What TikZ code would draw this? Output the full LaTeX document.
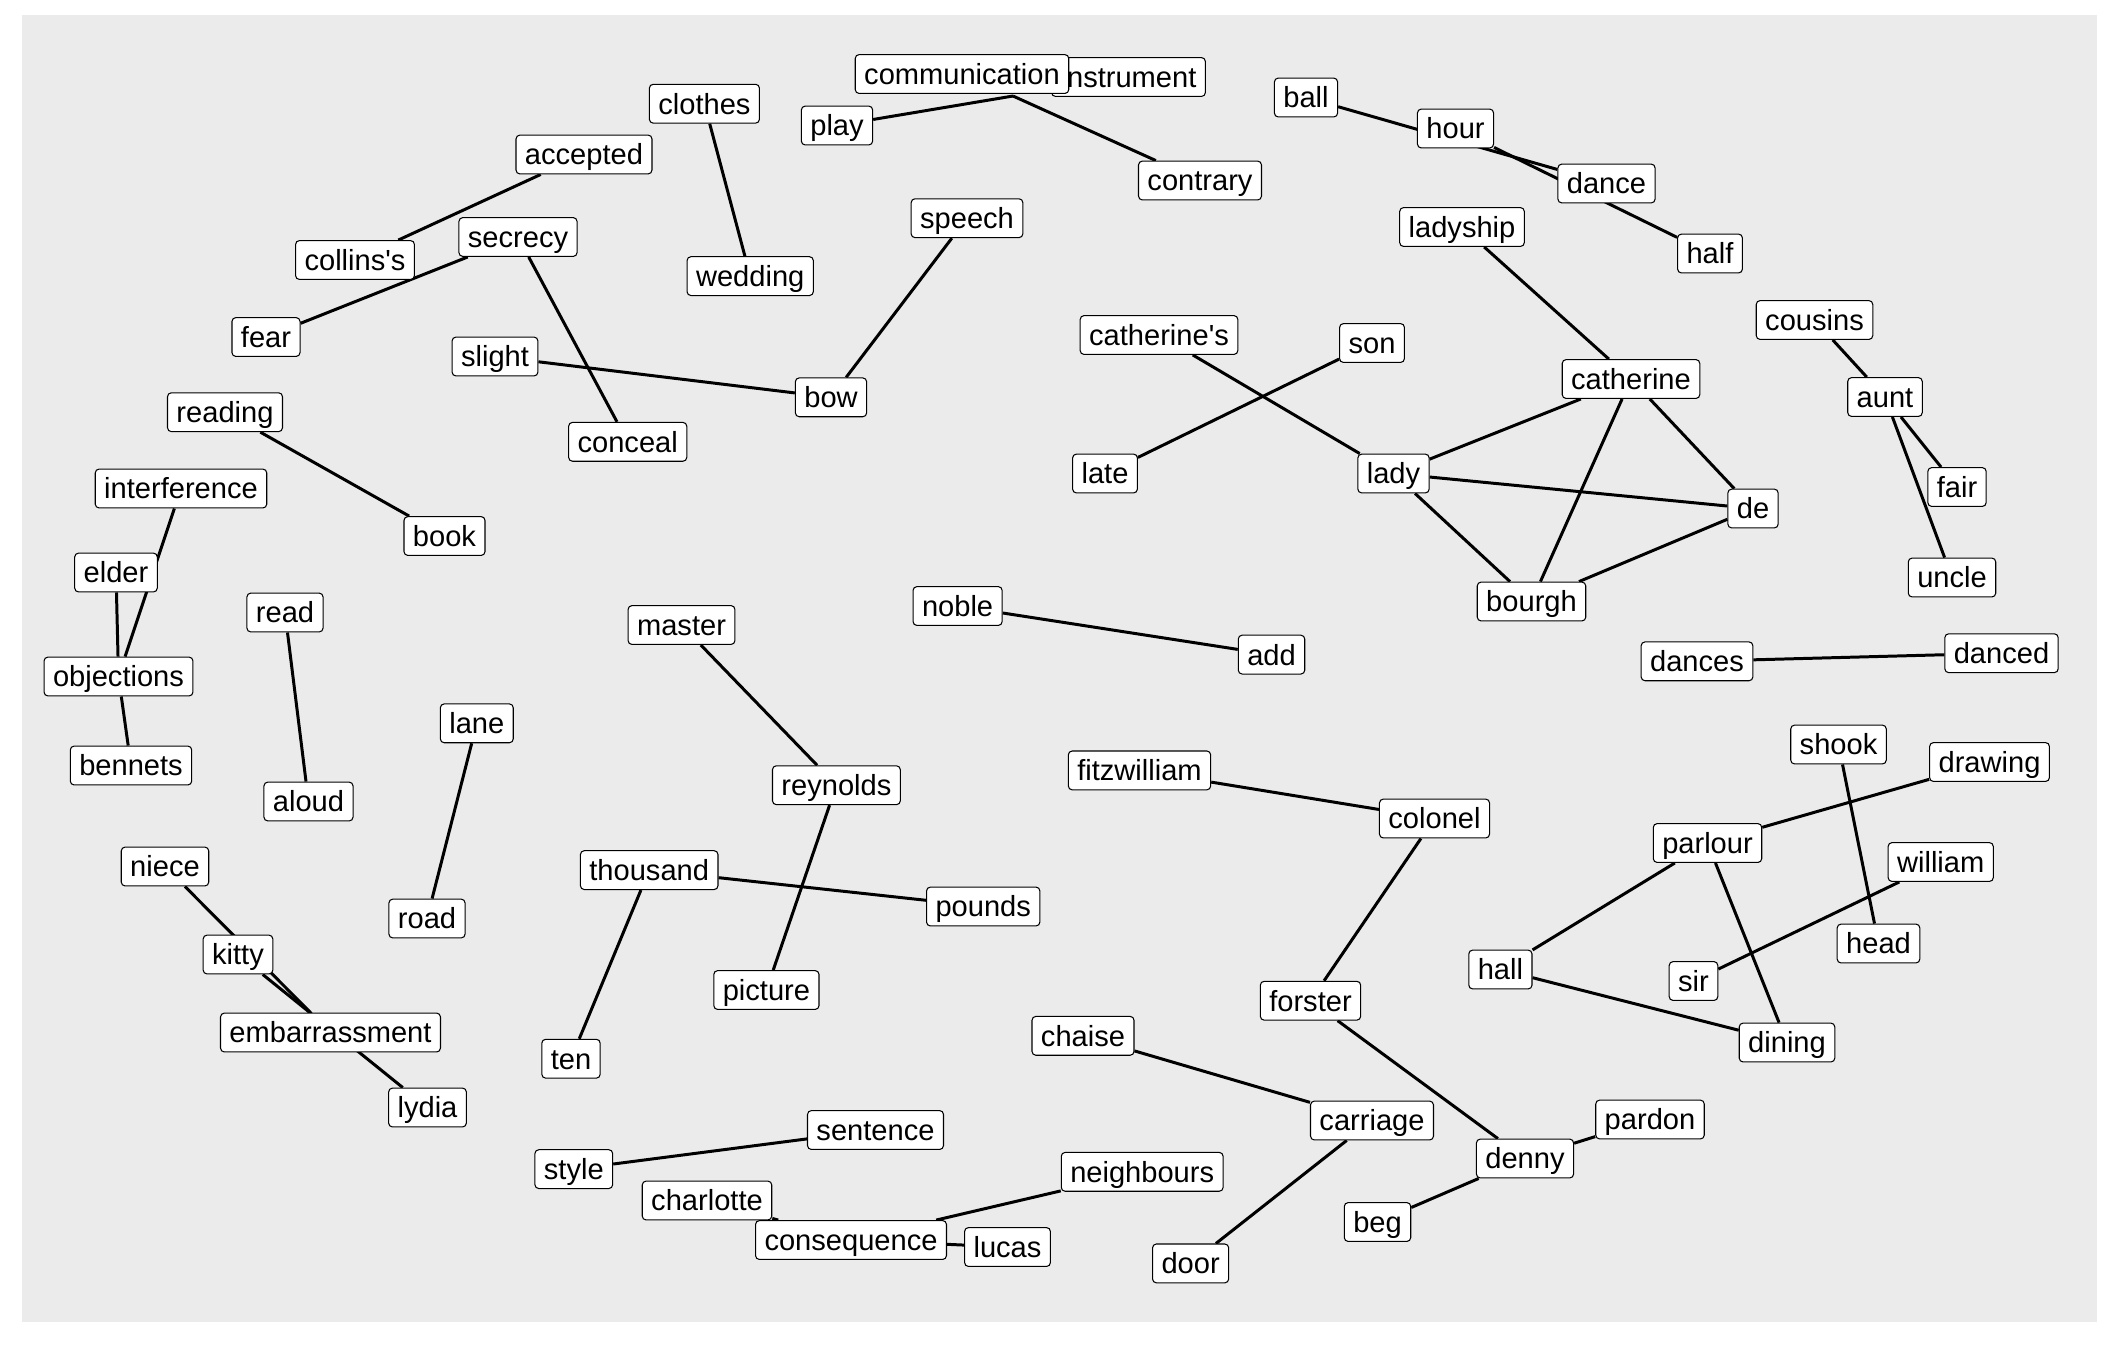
\documentclass[tikz,border=0pt]{standalone}
\usepackage{fontspec}
\setmainfont{Liberation Sans}
\definecolor{panelgrey}{HTML}{EBEBEB}
\pgfdeclarelayer{panel}
\pgfdeclarelayer{links}
\pgfsetlayers{panel,links,main}
\tikzset{
	word/.style={draw=black,fill=white,rounded corners=1.1pt,line width=0.3pt,
		inner xsep=2.55pt,inner ysep=2.55pt,text height=5.95pt,text depth=0pt,
		font=\fontsize{8.27}{9}\selectfont},
	link/.style={-,line width=0.85pt}
}
\begin{document}
\begin{tikzpicture}[x=0.01cm,y=-0.01cm]
	\useasboundingbox (0,0) rectangle (2112,1344);
	\begin{pgfonlayer}{panel}
		\fill[panelgrey] (22,15) rectangle (2097,1322);
	\end{pgfonlayer}
	\begin{scope}[every node/.style={word}]
		\node (instrument) at (1128.5,77) {instrument};
		\node (communication) at (962,74) {communication};
		\node (play) at (837,125.5) {play};
		\node (contrary) at (1200,180.5) {contrary};
		\node (clothes) at (704.4,103.7) {clothes};
		\node (wedding) at (750.2,276.1) {wedding};
		\node (ball) at (1306,97.5) {ball};
		\node (hour) at (1455.5,128.5) {hour};
		\node (dance) at (1606.5,183.5) {dance};
		\node (half) at (1710,253.5) {half};
		\node (ladyship) at (1462,227) {ladyship};
		\node (accepted) at (584,154.5) {accepted};
		\node (collinss) at (355,260) {collins\textquotesingle s};
		\node (secrecy) at (518,237) {secrecy};
		\node (fear) at (266,337) {fear};
		\node (slight) at (495,356.5) {slight};
		\node (speech) at (967,218.2) {speech};
		\node (bow) at (831,397.3) {bow};
		\node (conceal) at (627.7,441.8) {conceal};
		\node (catherines) at (1159,335) {catherine\textquotesingle s};
		\node (son) at (1372,343) {son};
		\node (catherine) at (1631,379) {catherine};
		\node (late) at (1105,473.5) {late};
		\node (lady) at (1393.5,473.5) {lady};
		\node (de) at (1753,508.5) {de};
		\node (bourgh) at (1531.5,601.5) {bourgh};
		\node (cousins) at (1814.5,320) {cousins};
		\node (aunt) at (1885,397) {aunt};
		\node (fair) at (1957,487) {fair};
		\node (uncle) at (1952,577.5) {uncle};
		\node (reading) at (225,412.2) {reading};
		\node (book) at (444.5,536) {book};
		\node (interference) at (181,488.5) {interference};
		\node (elder) at (116,572.5) {elder};
		\node (objections) at (118.5,676.5) {objections};
		\node (bennets) at (131,765.5) {bennets};
		\node (read) at (285,612.5) {read};
		\node (aloud) at (308.5,801.5) {aloud};
		\node (master) at (681.5,625) {master};
		\node (noble) at (957.6,606) {noble};
		\node (add) at (1271.5,654.6) {add};
		\node (dances) at (1697,661.3) {dances};
		\node (danced) at (2001.5,653.2) {danced};
		\node (lane) at (476.8,723.3) {lane};
		\node (road) at (427,918.5) {road};
		\node (reynolds) at (836.4,785.2) {reynolds};
		\node (picture) at (766.4,990) {picture};
		\node (fitzwilliam) at (1139.5,770.4) {fitzwilliam};
		\node (colonel) at (1434.5,818.5) {colonel};
		\node (forster) at (1310.5,1000.7) {forster};
		\node (shook) at (1838.5,744.5) {shook};
		\node (drawing) at (1989.5,762) {drawing};
		\node (parlour) at (1707.5,843) {parlour};
		\node (william) at (1940.7,862) {william};
		\node (head) at (1878.5,943.5) {head};
		\node (hall) at (1500.4,969.5) {hall};
		\node (sir) at (1693.5,981) {sir};
		\node (dining) at (1787,1042.5) {dining};
		\node (niece) at (165,866.5) {niece};
		\node (kitty) at (238,954.5) {kitty};
		\node (embarrassment) at (330.5,1032.5) {embarrassment};
		\node (lydia) at (427.5,1107.5) {lydia};
		\node (thousand) at (649.2,870.1) {thousand};
		\node (pounds) at (983.2,906.5) {pounds};
		\node (ten) at (571,1058.7) {ten};
		\node (chaise) at (1083,1035.8) {chaise};
		\node (carriage) at (1372,1120.5) {carriage};
		\node (door) at (1190.6,1263.4) {door};
		\node (denny) at (1525,1158.5) {denny};
		\node (pardon) at (1650,1119.5) {pardon};
		\node (beg) at (1377.5,1222) {beg};
		\node (sentence) at (875.5,1130) {sentence};
		\node (style) at (573.8,1169.1) {style};
		\node (charlotte) at (707,1200.5) {charlotte};
		\node (consequence) at (851,1240) {consequence};
		\node (lucas) at (1007.5,1247) {lucas};
		\node (neighbours) at (1142.2,1171.8) {neighbours};
	\end{scope}
	\coordinate (commpt) at (1013,96);
	\begin{pgfonlayer}{links}
	\path [link](play) edge (commpt);
	\path [link](commpt) edge (contrary);
	\path [link](clothes) edge (wedding);
	\path [link](ball) edge (dance);
	\path [link](hour) edge (half);
	\path [link](accepted) edge (collinss);
	\path [link](fear) edge (secrecy);
	\path [link](secrecy) edge (conceal);
	\path [link](speech) edge (bow);
	\path [link](slight) edge (bow);
	\path [link](ladyship) edge (catherine);
	\path [link](catherines) edge (lady);
	\path [link](son) edge (late);
	\path [link](lady) edge (catherine);
	\path [link](lady) edge (de);
	\path [link](lady) edge (bourgh);
	\path [link](catherine) edge (bourgh);
	\path [link](catherine) edge (de);
	\path [link](de) edge (bourgh);
	\path [link](cousins) edge (aunt);
	\path [link](aunt) edge (fair);
	\path [link](aunt) edge (uncle);
	\path [link](reading) edge (book);
	\path [link](interference) edge (objections);
	\path [link](elder) edge (objections);
	\path [link](objections) edge (bennets);
	\path [link](read) edge (aloud);
	\path [link](master) edge (reynolds);
	\path [link](reynolds) edge (picture);
	\path [link](noble) edge (add);
	\path [link](dances) edge (danced);
	\path [link](lane) edge (road);
	\path [link](fitzwilliam) edge (colonel);
	\path [link](colonel) edge (forster);
	\path [link](forster) edge (denny);
	\path [link](shook) edge (head);
	\path [link](drawing) edge (parlour);
	\path [link](parlour) edge (hall);
	\path [link](parlour) edge (dining);
	\path [link](hall) edge (dining);
	\path [link](william) edge (sir);
	\path [link](niece) edge (embarrassment);
	\path [link](kitty) edge (lydia);
	\path [link](thousand) edge (pounds);
	\path [link](thousand) edge (ten);
	\path [link](chaise) edge (carriage);
	\path [link](carriage) edge (door);
	\path [link](pardon) edge (denny);
	\path [link](denny) edge (beg);
	\path [link](sentence) edge (style);
	\path [link](charlotte) edge (consequence);
	\path [link](consequence) edge (neighbours);
	\path [link](consequence) edge (lucas);
	\end{pgfonlayer}
\end{tikzpicture}
\end{document}
